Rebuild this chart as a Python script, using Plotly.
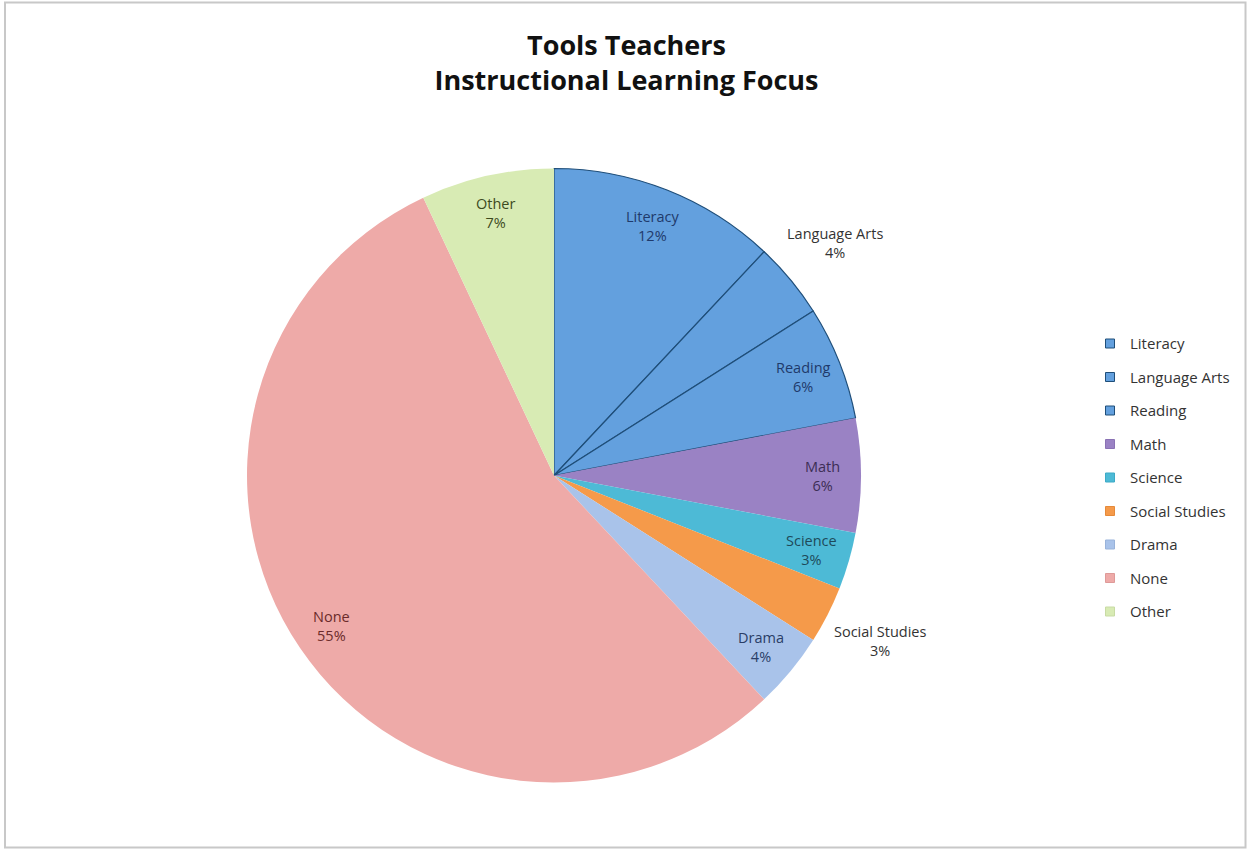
import math
import plotly.graph_objects as go

categories = ["Literacy", "Language Arts", "Reading", "Math", "Science",
              "Social Studies", "Drama", "None", "Other"]
values = [12, 4, 6, 6, 3, 3, 4, 55, 7]
colors = ["#63a0de", "#63a0de", "#63a0de", "#9a82c4", "#4dbad6",
          "#f59a4a", "#a9c3ea", "#eeaaa8", "#d8ebb4"]
text_colors = ["#1f3a6b", "#333333", "#1f3a6b", "#3d2e55", "#1e4a5a",
               "#333333", "#2a3d66", "#6b2a2a", "#3d4a1e"]
line_colors = ["#1f4e79", "#1f4e79", "#1f4e79", "rgba(0,0,0,0)", "rgba(0,0,0,0)",
               "rgba(0,0,0,0)", "rgba(0,0,0,0)", "rgba(0,0,0,0)", "rgba(0,0,0,0)"]
legend_line_colors = ["#1f4e79", "#1f4e79", "#1f4e79", "#8a72b4", "#3daac6",
                      "#e58a3a", "#99b3da", "#de9a98", "#c8dba4"]
line_widths = [1.2, 1.2, 1.2, 0, 0, 0, 0, 0, 0]
label_outside = [False, True, False, False, False, True, False, False, False]

FONT = "Open Sans"
W, H = 1248, 850
# pie domain in pixels
DX0, DX1, DY0, DY1 = 247, 861, 168, 783

fig = go.Figure()
fig.add_trace(go.Pie(
    labels=categories,
    values=values,
    sort=False,
    direction="clockwise",
    rotation=0,
    marker=dict(colors=colors, line=dict(color=line_colors, width=line_widths)),
    textinfo="none",
    domain=dict(x=[DX0 / W, DX1 / W], y=[1 - DY1 / H, 1 - DY0 / H]),
    showlegend=False,
    hoverinfo="label+percent",
))

# data labels placed along each slice's bisector (Excel-style best fit)
cx, cy = (DX0 + DX1) / 2, (DY0 + DY1) / 2
R = min(DX1 - DX0, DY1 - DY0) / 2
total = sum(values)
cum = 0
annotations = []
for lab, v, tc, out in zip(categories, values, text_colors, label_outside):
    mid = (cum + v / 2) / total
    cum += v
    th = 2 * math.pi * mid
    f = 1.19 if out else 0.875
    sx = cx + math.sin(th) * f * R
    sy = cy - math.cos(th) * f * R
    pct = round(v / total * 100)
    annotations.append(dict(
        x=sx / W, y=1 - sy / H, xref="paper", yref="paper",
        text=f"{lab}<br>{pct}%", showarrow=False, align="center",
        xanchor="center", yanchor="middle",
        font=dict(family=FONT, size=14.5, color=tc),
    ))

# legend entries
for c, col, lc in zip(categories, colors, legend_line_colors):
    fig.add_trace(go.Scatter(
        x=[None], y=[None], mode="markers", name=c, legendgroup=c,
        marker=dict(symbol="square", size=9, color=col, line=dict(color=lc, width=1)),
        showlegend=True,
    ))

fig.update_layout(
    width=W, height=H,
    paper_bgcolor="white", plot_bgcolor="white",
    margin=dict(l=0, r=0, t=0, b=0),
    title=dict(text="<b>Tools Teachers<br>Instructional Learning Focus</b>",
               x=0.502, xanchor="center", y=0.935, yanchor="top",
               font=dict(family=FONT, size=27, color="#111111")),
    xaxis=dict(visible=False), yaxis=dict(visible=False),
    legend=dict(x=1090 / W, y=0.615, xanchor="left", yanchor="top",
                traceorder="grouped", tracegroupgap=11,
                font=dict(family=FONT, size=15, color="#333333"),
                itemwidth=30, bgcolor="rgba(0,0,0,0)"),
    annotations=annotations,
    shapes=[dict(type="rect", xref="paper", yref="paper", x0=0.004, x1=0.998,
                 y0=0.003, y1=0.997, line=dict(color="#c8c8c8", width=2))],
)

fig.write_html("out.html", config={"displayModeBar": False},
               post_script="document.body.style.margin='0px';")
